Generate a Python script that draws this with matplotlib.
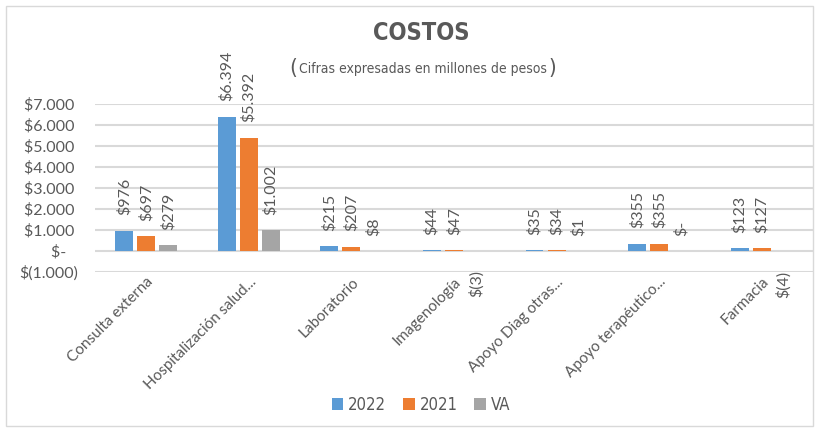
import numpy as np
import matplotlib
matplotlib.use("Agg")
import matplotlib.pyplot as plt
from matplotlib.ticker import FuncFormatter
from matplotlib.patches import Rectangle

# -> Data
categorias = ["Consulta externa", "Hospitalización salud...", "Laboratorio", "Imagenología",
              "Apoyo Diag otras...", "Apoyo terapéutico...", "Farmacia"]
v2022 = [976, 6394, 215, 44, 35, 355, 123]
v2021 = [697, 5392, 207, 47, 34, 355, 127]
va = [279, 1002, 8, -3, 1, 0, -4]
series = ["2022", "2021", "VA"]
colores = ["#5B9BD5", "#ED7D31", "#A5A5A5"]

texto = "#595959"
plt.rcParams['font.family'] = ["Lato", "DejaVu Sans"]
narrow = dict(family=["DejaVu Sans"], fontstretch="condensed")


def pesos(v):
    if v == 0:
        return "$-"
    s = f"{abs(v):,.0f}".replace(",", ".")
    return f"$({s})" if v < 0 else f"${s}"


fig = plt.figure(figsize=(8.22, 4.32), dpi=100)
ax = fig.add_axes([95 / 822, 1 - 272 / 432, 718 / 822, 168 / 432])

x = np.arange(len(categorias))
ancho = 0.175
desp = 0.215
for k, (vals, nombre, col) in enumerate(zip([v2022, v2021, va], series, colores)):
    pos = x + (k - 1) * desp
    ax.bar(pos, vals, ancho, color=col, label=nombre, zorder=3)
    for xi, v in zip(pos, vals):
        if v < 0:
            ax.annotate(pesos(v), (xi, 0), xytext=(0, -14), textcoords="offset points",
                        rotation=90, ha="center", va="top", fontsize=11.5, color=texto,
                        annotation_clip=False)
        else:
            ax.annotate(pesos(v), (xi, v), xytext=(0, 11), textcoords="offset points",
                        rotation=90, ha="center", va="bottom", fontsize=11.5, color=texto,
                        annotation_clip=False)

ax.set_xlim(-0.5, len(categorias) - 0.5)
ax.set_ylim(-1000, 7000)
ax.set_yticks(np.arange(-1000, 7001, 1000))
ax.yaxis.set_major_formatter(FuncFormatter(lambda v, p: pesos(v) + ("   " if v == 0 else (" " if v > 0 else ""))))
ax.grid(axis="y", color="#D9D9D9", linewidth=1.5, zorder=0)
ax.set_xticks(x)
ax.set_xticklabels(categorias, rotation=45, ha="right", rotation_mode="anchor", fontsize=11)
ax.tick_params(axis="y", length=0, labelsize=11.5, labelcolor=texto, pad=12)
ax.tick_params(axis="x", length=0, labelcolor=texto, pad=2)
for s in ax.spines.values():
    s.set_visible(False)

fig.text(421 / 822, 1 - 33 / 432, "COSTOS", ha="center", va="center", fontsize=17,
         fontweight="bold", color=texto, **narrow)
fig.text(423 / 822, 1 - 69 / 432, "Cifras expresadas en millones de pesos", ha="center", va="center",
         fontsize=10, color=texto, **narrow)
fig.text(293 / 822, 1 - 68 / 432, "(", ha="center", va="center", fontsize=16, color=texto, **narrow)
fig.text(552 / 822, 1 - 68 / 432, ")", ha="center", va="center", fontsize=16, color=texto, **narrow)

leg = fig.legend(loc="center", bbox_to_anchor=(421 / 822, 1 - 405 / 432), ncol=3, frameon=False,
                 handlelength=0.7, handleheight=0.7, handletextpad=0.3, columnspacing=1.0,
                 prop=dict(size=12, family=["DejaVu Sans"], stretch="condensed"))
for t in leg.get_texts():
    t.set_color(texto)

fig.patches.append(Rectangle((6 / 822, 6 / 432), 807 / 822, 420 / 432, transform=fig.transFigure,
                             fill=False, edgecolor="#D9D9D9", linewidth=1))

fig.savefig("out.png", dpi=100)
